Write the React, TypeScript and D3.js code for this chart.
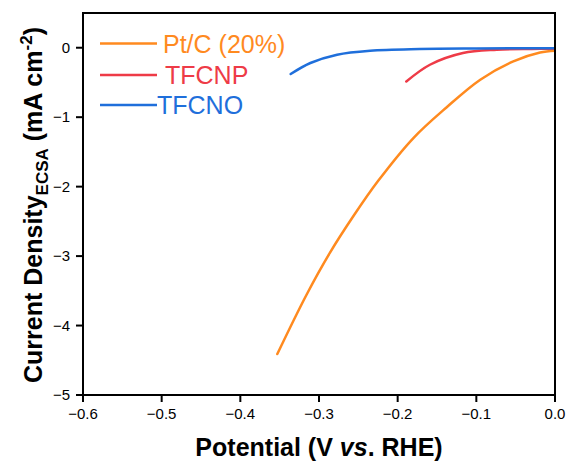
import React from "react";
import * as d3 from "d3";

const ptcX = [-0.353, -0.316, -0.286, -0.256, -0.225, -0.18, -0.138, -0.095, -0.053, -0.019, 0];
const ptcY = [-4.41, -3.56, -2.95, -2.42, -1.92, -1.3, -0.86, -0.46, -0.197, -0.07, -0.043];
const tfcnpX = [-0.189, -0.159, -0.117, -0.074, -0.03, 0];
const tfcnpY = [-0.486, -0.245, -0.076, -0.029, -0.017, -0.014];
const tfcnoX = [-0.336, -0.311, -0.277, -0.235, -0.172, -0.1, 0];
const tfcnoY = [-0.379, -0.22, -0.1, -0.043, -0.019, -0.011, -0.007];
const xTicks = [-0.6, -0.5, -0.4, -0.3, -0.2, -0.1, 0.0];
const yTicks = [0, -1, -2, -3, -4, -5];
const seriesNames = ["Pt/C (20%)", "TFCNP", "TFCNO"];
const colors = ["#FF8A1F", "#EE3B47", "#1F6FDB"];

const W = 572, H = 466;
const M = { left: 83, right: 555, top: 13, bottom: 395 };

export default function App() {
  const x = d3.scaleLinear().domain([-0.6, 0]).range([M.left, M.right]);
  const y = d3.scaleLinear().domain([-5, 0.5]).range([M.bottom, M.top]);
  const line = d3.line<[number, number]>().x(d => x(d[0])).y(d => y(d[1])).curve(d3.curveCatmullRom.alpha(0.5));
  const series = [
    ptcX.map((v, i) => [v, ptcY[i]] as [number, number]),
    tfcnpX.map((v, i) => [v, tfcnpY[i]] as [number, number]),
    tfcnoX.map((v, i) => [v, tfcnoY[i]] as [number, number]),
  ];
  const fmt = (v: number) => (v < 0 ? "\u2212" : "") + Math.abs(v).toFixed(1);
  const legend = [
    { ly: 43.5, tx: 163, ty: 53 },
    { ly: 75, tx: 165, ty: 83.5 },
    { ly: 105, tx: 157, ty: 113.5 },
  ];
  return (
    <svg width={W} height={H} style={{ position: "absolute", left: 0, top: 0, background: "#fff" }} fontFamily="Liberation Sans, Arial, sans-serif">
      <defs>
        <clipPath id="clip"><rect x={M.left} y={M.top} width={M.right - M.left} height={M.bottom - M.top} /></clipPath>
      </defs>
      <g clipPath="url(#clip)">
        {series.map((s, i) => (
          <path key={i} d={line(s) || ""} fill="none" stroke={colors[i]} strokeWidth={2.5} strokeLinecap="round" />
        ))}
      </g>
      <rect x={M.left} y={M.top} width={M.right - M.left} height={M.bottom - M.top} fill="none" stroke="#000" strokeWidth={2} />
      {xTicks.map(t => (
        <g key={t}>
          <line x1={x(t)} x2={x(t)} y1={M.bottom} y2={M.bottom + 7} stroke="#000" strokeWidth={2} />
          <text x={x(t)} y={M.bottom + 24} fontSize={15} textAnchor="middle">{fmt(t)}</text>
        </g>
      ))}
      {yTicks.map(t => (
        <g key={t}>
          <line x1={M.left - 7} x2={M.left} y1={y(t)} y2={y(t)} stroke="#000" strokeWidth={2} />
          <text x={M.left - 13} y={y(t) + 5} fontSize={15} textAnchor="end">{t === 0 ? "0" : "\u2212" + Math.abs(t)}</text>
        </g>
      ))}
      {seriesNames.map((n, i) => (
        <g key={n}>
          <line x1={100} x2={157} y1={legend[i].ly} y2={legend[i].ly} stroke={colors[i]} strokeWidth={2.5} />
          <text x={legend[i].tx} y={legend[i].ty} fontSize={25} fill={colors[i]}>{n}</text>
        </g>
      ))}
      <text x={319} y={456} fontSize={25} fontWeight="bold" textAnchor="middle">
        Potential (V <tspan fontStyle="italic">vs</tspan>. RHE)
      </text>
      <text transform={`translate(42,${(M.top + M.bottom) / 2 + 1}) rotate(-90)`} fontSize={25} fontWeight="bold" textAnchor="middle">
        Current Density<tspan fontSize={17} dy={6}>ECSA</tspan><tspan dy={-6}> (mA cm</tspan><tspan fontSize={17} dy={-10}>-2</tspan><tspan dy={10}>)</tspan>
      </text>
    </svg>
  );
}
